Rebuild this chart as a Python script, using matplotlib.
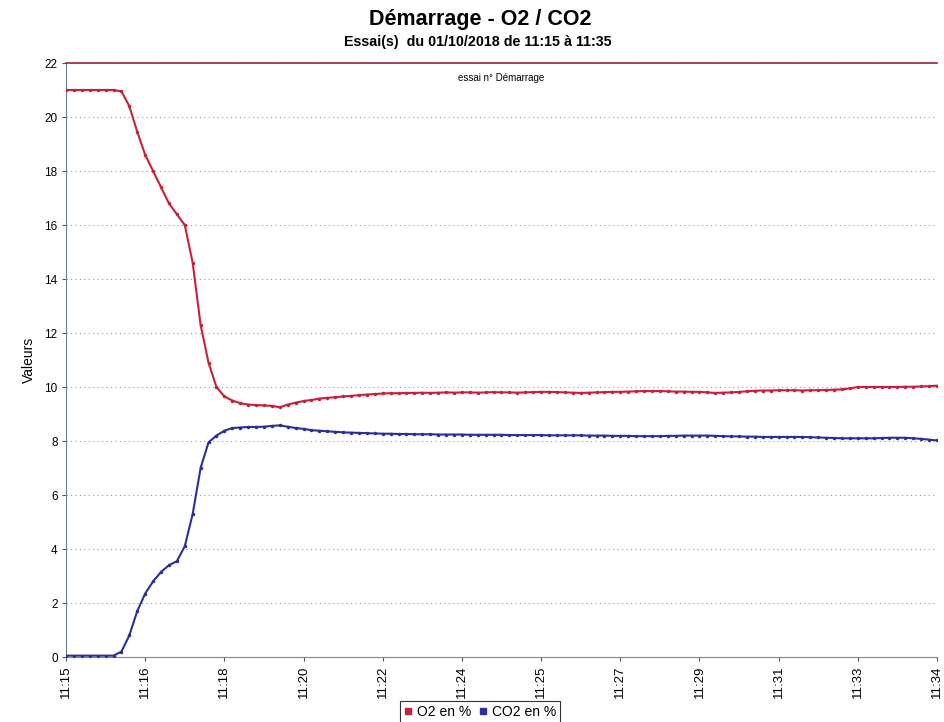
import matplotlib
matplotlib.use("Agg")
import matplotlib.pyplot as plt
from matplotlib.lines import Line2D

plt.rcParams['font.family'] = ['Liberation Sans', 'DejaVu Sans']

x_labels = ["11:15", "11:16", "11:18", "11:20", "11:22", "11:24",
            "11:25", "11:27", "11:29", "11:31", "11:33", "11:34"]
y_ticks = [0, 2, 4, 6, 8, 10, 12, 14, 16, 18, 20, 22]

o2 = [21.0, 21.0, 21.0, 21.0, 21.0, 21.0, 21.0, 20.95, 20.4, 19.45,
      18.6, 18.0, 17.4, 16.8, 16.4, 16.0, 14.6, 12.3, 10.9, 10.0,
      9.65, 9.5, 9.4, 9.35, 9.33, 9.32, 9.3, 9.25, 9.35, 9.42,
      9.48, 9.52, 9.57, 9.6, 9.62, 9.65, 9.67, 9.7, 9.72, 9.74,
      9.76, 9.77, 9.77, 9.78, 9.78, 9.79, 9.78, 9.79, 9.8, 9.79,
      9.8, 9.8, 9.79, 9.8, 9.81, 9.8, 9.8, 9.79, 9.8, 9.81,
      9.82, 9.82, 9.81, 9.8, 9.79, 9.78, 9.79, 9.8, 9.81, 9.82,
      9.82, 9.83, 9.84, 9.85, 9.85, 9.85, 9.84, 9.83, 9.83, 9.82,
      9.82, 9.8, 9.78, 9.79, 9.8, 9.82, 9.84, 9.86, 9.87, 9.87,
      9.88, 9.88, 9.88, 9.87, 9.88, 9.88, 9.89, 9.9, 9.91, 9.95,
      10.0, 10.0, 10.0, 10.0, 10.0, 10.0, 10.01, 10.01, 10.02, 10.03,
      10.05]

co2 = [0.05, 0.05, 0.05, 0.05, 0.05, 0.05, 0.05, 0.2, 0.8, 1.7,
       2.35, 2.8, 3.15, 3.4, 3.55, 4.1, 5.3, 7.0, 7.95, 8.2,
       8.38, 8.48, 8.5, 8.52, 8.52, 8.53, 8.56, 8.58, 8.53, 8.48,
       8.45, 8.4, 8.38, 8.36, 8.34, 8.32, 8.31, 8.3, 8.29, 8.28,
       8.27, 8.27, 8.26, 8.26, 8.25, 8.25, 8.25, 8.24, 8.24, 8.24,
       8.24, 8.23, 8.23, 8.23, 8.23, 8.23, 8.22, 8.22, 8.22, 8.22,
       8.22, 8.21, 8.21, 8.21, 8.21, 8.21, 8.2, 8.2, 8.2, 8.19,
       8.19, 8.19, 8.18, 8.18, 8.18, 8.18, 8.19, 8.19, 8.2, 8.2,
       8.2, 8.2, 8.19, 8.18, 8.17, 8.17, 8.16, 8.16, 8.15, 8.15,
       8.15, 8.15, 8.15, 8.15, 8.14, 8.13, 8.12, 8.11, 8.1, 8.1,
       8.1, 8.1, 8.1, 8.11, 8.12, 8.12, 8.12, 8.1, 8.08, 8.05,
       8.02]

red = "#c8203c"
blue = "#2b2f98"

fig = plt.figure(figsize=(9.45, 7.22), dpi=100)
ax = fig.add_axes([66/945, 1 - 657/722, (937 - 66)/945, (657 - 63)/722])

xs = list(range(len(o2)))
ax.plot(xs, o2, color=red, lw=1.5, marker='o', ms=1.5, zorder=3)
ax.plot(xs, co2, color=blue, lw=1.5, marker='o', ms=1.5, zorder=3)

ax.set_xlim(0, len(o2) - 1)
ax.set_ylim(0, 22)
ax.set_yticks(y_ticks)
ax.set_yticklabels([str(v) for v in y_ticks], fontsize=8.5)
step = (len(o2) - 1) / (len(x_labels) - 1)
ax.set_xticks([i * step for i in range(len(x_labels))])
ax.set_xticklabels(x_labels, rotation=90, fontsize=9.5)
ax.tick_params(axis='both', length=3, color='#555555', pad=3)

ax.grid(axis='y', color='#999999', linestyle=(0, (1, 3)), lw=0.8)
ax.set_axisbelow(True)

ax.spines['top'].set_color('#a0203a')
ax.spines['top'].set_linewidth(1.2)
ax.spines['right'].set_visible(False)
ax.spines['left'].set_color('#6a7a90')
ax.spines['bottom'].set_color('#888888')

ax.set_ylabel("Valeurs", fontsize=10, labelpad=6)

fig.text(480/945, 1 - 20/722, "Démarrage - O2 / CO2", ha='center', va='center',
         fontsize=15.5, fontweight='bold')
fig.text(478/945, 1 - 42/722, "Essai(s)  du 01/10/2018 de 11:15 à 11:35", ha='center',
         va='center', fontsize=10.3, fontweight='bold')
ax.text(0.5, 0.975, "essai n° Démarrage", transform=ax.transAxes, ha='center',
        va='center', fontsize=7)

handles = [Line2D([], [], color=red, marker='s', ls='none', ms=5),
           Line2D([], [], color=blue, marker='s', ls='none', ms=5)]
leg = fig.legend(handles, ["O2 en %", "CO2 en %"], loc='center',
                 bbox_to_anchor=(480/945, 1 - 712/722), ncol=2, fontsize=10,
                 frameon=True, fancybox=False, handlelength=0.6, handletextpad=0.3,
                 columnspacing=0.6, borderpad=0.3)
leg.get_frame().set_edgecolor('black')
leg.get_frame().set_linewidth(0.8)

fig.savefig("out.png", dpi=100)
